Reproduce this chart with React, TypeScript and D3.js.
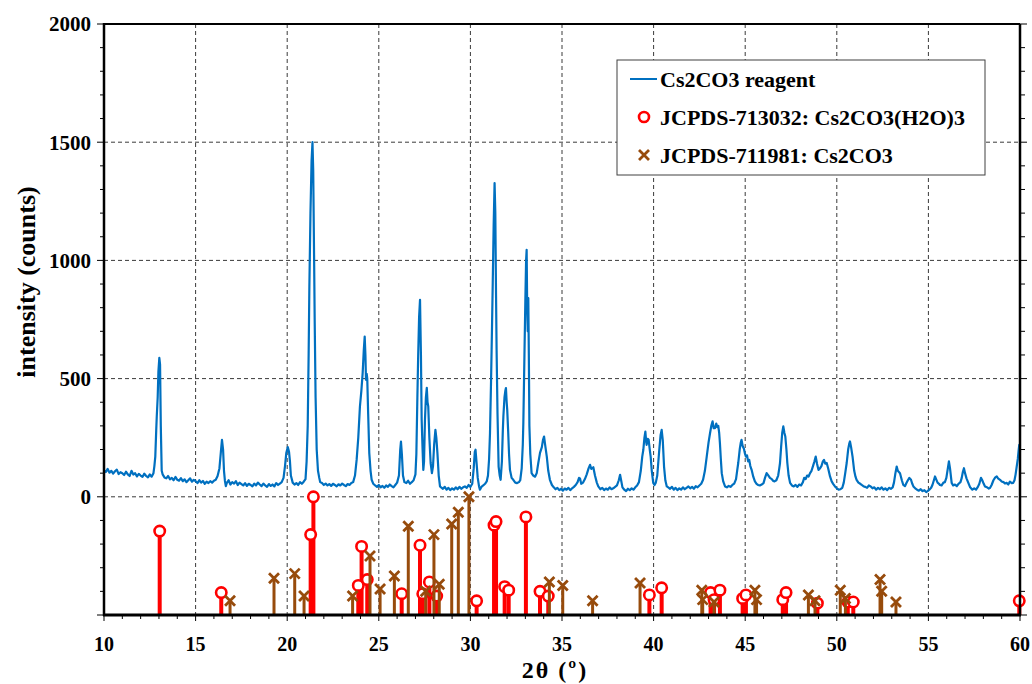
import React, { useEffect, useRef } from 'react';
import * as d3 from 'd3';

// ---------- data ----------
const xTicks = [10, 15, 20, 25, 30, 35, 40, 45, 50, 55, 60];
const yTickLabels = [0, 500, 1000, 1500, 2000];
const legendLabels = ['Cs2CO3 reagent', 'JCPDS-713032: Cs2CO3(H2O)3', 'JCPDS-711981: Cs2CO3'];

// XRD scan of the Cs2CO3 reagent: [2θ, counts]
const scan10to20: [number, number][] = [
  [10.0, 112], [10.1, 105], [10.2, 118], [10.3, 102], [10.4, 110], [10.5, 98], [10.6, 108], [10.7, 115], [10.8, 96], [10.9, 104],
  [11.0, 100], [11.1, 92], [11.2, 106], [11.3, 95], [11.4, 88], [11.5, 110], [11.6, 94], [11.7, 100], [11.8, 86], [11.9, 97],
  [12.0, 90], [12.1, 84], [12.2, 98], [12.3, 88], [12.4, 82], [12.5, 95], [12.6, 85], [12.7, 100], [12.75, 130], [12.8, 170],
  [12.85, 280], [12.88, 340], [12.93, 420], [12.97, 530], [13.02, 588], [13.06, 560], [13.1, 300], [13.15, 110], [13.2, 95],
  [13.3, 82], [13.4, 78], [13.5, 88], [13.6, 74], [13.7, 80], [13.8, 70], [13.9, 84], [14.0, 72], [14.1, 68], [14.2, 79],
  [14.3, 66], [14.4, 74], [14.5, 62], [14.6, 70], [14.7, 78], [14.8, 64], [14.9, 72], [15.0, 66], [15.1, 58], [15.2, 70],
  [15.3, 60], [15.4, 67], [15.5, 55], [15.6, 64], [15.7, 58], [15.8, 66], [15.9, 60], [16.0, 68], [16.1, 72], [16.2, 88],
  [16.3, 120], [16.38, 190], [16.44, 241], [16.5, 200], [16.55, 110], [16.6, 68], [16.65, 45], [16.7, 58], [16.8, 70],
  [16.9, 52], [17.0, 62], [17.1, 56], [17.2, 66], [17.3, 50], [17.4, 60], [17.5, 54], [17.6, 48], [17.7, 58], [17.8, 46],
  [17.9, 55], [18.0, 50], [18.1, 44], [18.2, 56], [18.3, 48], [18.4, 60], [18.5, 52], [18.6, 45], [18.7, 56], [18.8, 48],
  [18.9, 42], [19.0, 54], [19.1, 46], [19.2, 52], [19.3, 44], [19.4, 58], [19.5, 50], [19.6, 56], [19.7, 62], [19.8, 80],
  [19.88, 130], [19.95, 185], [20.03, 210],
];
const scan20to30: [number, number][] = [
  [20.1, 190], [20.15, 150], [20.2, 90], [20.3, 60], [20.4, 52], [20.5, 58], [20.6, 50], [20.7, 62], [20.8, 55], [20.9, 64],
  [21.0, 75], [21.06, 150], [21.12, 300], [21.17, 600], [21.21, 890], [21.27, 1200], [21.33, 1420], [21.38, 1500],
  [21.42, 1380], [21.47, 1000], [21.5, 750], [21.55, 420], [21.61, 200], [21.68, 110], [21.75, 80], [21.8, 62], [21.9, 58],
  [22.0, 50], [22.1, 56], [22.2, 48], [22.3, 54], [22.4, 46], [22.5, 55], [22.6, 50], [22.7, 44], [22.8, 53], [22.9, 48],
  [23.0, 56], [23.1, 50], [23.2, 45], [23.3, 54], [23.4, 50], [23.5, 58], [23.6, 62], [23.7, 90], [23.79, 156], [23.88, 250],
  [23.97, 382], [24.05, 450], [24.12, 524], [24.18, 620], [24.23, 678], [24.27, 600], [24.3, 495], [24.34, 520], [24.37, 500],
  [24.42, 350], [24.48, 185], [24.55, 110], [24.61, 72], [24.7, 55], [24.8, 48], [24.9, 42], [25.0, 50], [25.1, 40],
  [25.2, 46], [25.3, 38], [25.4, 48], [25.5, 42], [25.6, 52], [25.7, 45], [25.8, 40], [25.9, 50], [26.0, 60], [26.1, 90],
  [26.17, 200], [26.21, 234], [26.26, 180], [26.32, 90], [26.4, 62], [26.5, 58], [26.6, 68], [26.7, 55], [26.8, 62],
  [26.9, 70], [27.0, 95], [27.05, 180], [27.1, 397], [27.15, 600], [27.2, 760], [27.25, 833], [27.3, 600], [27.34, 326],
  [27.39, 200], [27.43, 114], [27.47, 150], [27.52, 326], [27.57, 420], [27.62, 461], [27.66, 400], [27.7, 382],
  [27.76, 250], [27.83, 143], [27.9, 100], [27.96, 130], [28.02, 220], [28.09, 283], [28.14, 250], [28.2, 185], [28.27, 90],
  [28.34, 44], [28.4, 40], [28.5, 34], [28.6, 42], [28.7, 30], [28.8, 38], [28.9, 28], [29.0, 36], [29.1, 30], [29.2, 40],
  [29.3, 32], [29.4, 42], [29.5, 34], [29.6, 40], [29.7, 44], [29.8, 38], [29.9, 50], [30.0, 42],
];
const scan30to40: [number, number][] = [
  [30.1, 55], [30.18, 120], [30.24, 190], [30.28, 199], [30.33, 150], [30.4, 80], [30.47, 45], [30.52, 30], [30.6, 42],
  [30.7, 48], [30.8, 55], [30.89, 65], [30.96, 90], [31.02, 160], [31.07, 270], [31.13, 500], [31.18, 720], [31.22, 905],
  [31.27, 1150], [31.32, 1327], [31.36, 1200], [31.4, 850], [31.43, 622], [31.48, 350], [31.54, 128], [31.6, 90],
  [31.65, 72], [31.72, 150], [31.77, 280], [31.8, 340], [31.86, 420], [31.91, 450], [31.94, 460], [31.98, 400],
  [32.01, 368], [32.06, 280], [32.11, 180], [32.16, 114], [32.25, 80], [32.34, 72], [32.45, 60], [32.55, 58], [32.65, 62],
  [32.72, 70], [32.8, 120], [32.86, 220], [32.89, 313], [32.95, 600], [33.0, 833], [33.04, 1000], [33.07, 1045],
  [33.1, 800], [33.13, 700], [33.16, 840], [33.19, 600], [33.22, 300], [33.27, 180], [33.34, 100], [33.43, 90],
  [33.53, 85], [33.62, 100], [33.7, 140], [33.8, 186], [33.9, 210], [33.96, 240], [34.02, 255], [34.08, 220], [34.17, 170],
  [34.25, 110], [34.34, 72], [34.45, 50], [34.55, 40], [34.65, 32], [34.75, 38], [34.85, 28], [34.95, 34], [35.05, 26],
  [35.15, 35], [35.25, 30], [35.35, 38], [35.45, 28], [35.55, 36], [35.65, 42], [35.75, 50], [35.85, 62], [35.93, 80],
  [35.98, 78], [36.05, 55], [36.15, 60], [36.25, 75], [36.35, 95], [36.45, 120], [36.53, 135], [36.6, 118], [36.71, 125],
  [36.8, 90], [36.9, 60], [36.98, 44], [37.1, 32], [37.2, 38], [37.3, 28], [37.4, 35], [37.5, 30], [37.6, 40], [37.7, 32],
  [37.8, 36], [37.9, 42], [38.0, 48], [38.1, 70], [38.17, 93], [38.24, 65], [38.3, 40], [38.4, 30], [38.5, 24], [38.6, 34],
  [38.7, 28], [38.8, 36], [38.9, 30], [39.0, 40], [39.1, 48], [39.2, 62], [39.3, 110], [39.38, 170], [39.44, 199],
  [39.5, 250], [39.55, 276], [39.6, 230], [39.62, 220], [39.68, 245], [39.73, 241], [39.79, 200], [39.84, 170],
  [39.9, 110], [39.98, 59],
];
const scan40to50: [number, number][] = [
  [40.05, 50], [40.12, 60], [40.2, 90], [40.26, 150], [40.31, 199], [40.38, 260], [40.44, 283], [40.5, 240], [40.57, 128],
  [40.64, 70], [40.72, 44], [40.8, 40], [40.9, 34], [41.0, 42], [41.1, 30], [41.2, 38], [41.3, 28], [41.4, 36], [41.5, 30],
  [41.6, 40], [41.7, 32], [41.8, 38], [41.9, 44], [42.0, 36], [42.1, 42], [42.2, 34], [42.3, 45], [42.4, 40], [42.5, 48],
  [42.6, 55], [42.7, 72], [42.8, 110], [42.9, 170], [43.0, 230], [43.08, 269], [43.15, 300], [43.22, 319], [43.28, 290],
  [43.35, 290], [43.42, 310], [43.48, 295], [43.53, 300], [43.58, 270], [43.62, 227], [43.67, 160], [43.72, 100],
  [43.8, 65], [43.9, 44], [44.0, 40], [44.1, 46], [44.2, 42], [44.3, 50], [44.4, 56], [44.5, 75], [44.56, 110],
  [44.62, 143], [44.7, 200], [44.76, 230], [44.8, 241], [44.86, 215], [44.93, 203], [44.98, 185], [45.04, 170],
  [45.1, 175], [45.16, 150], [45.22, 156], [45.28, 130], [45.35, 114], [45.44, 85], [45.53, 65], [45.62, 55], [45.7, 50],
  [45.8, 48], [45.9, 52], [46.0, 58], [46.08, 80], [46.17, 100], [46.25, 92], [46.35, 80], [46.45, 75], [46.52, 68],
  [46.6, 65], [46.7, 70], [46.8, 90], [46.86, 120], [46.9, 143], [46.96, 210], [47.02, 270], [47.08, 298], [47.14, 270],
  [47.19, 255], [47.25, 200], [47.3, 143], [47.37, 90], [47.45, 59], [47.55, 48], [47.65, 44], [47.75, 50], [47.85, 42],
  [47.95, 52], [48.05, 48], [48.15, 62], [48.22, 80], [48.3, 75], [48.38, 90], [48.46, 86], [48.54, 100], [48.62, 110],
  [48.7, 130], [48.78, 150], [48.85, 170], [48.92, 140], [49.0, 114], [49.08, 120], [49.16, 130], [49.24, 150],
  [49.3, 156], [49.37, 140], [49.45, 143], [49.53, 120], [49.63, 86], [49.72, 65], [49.8, 55], [49.9, 44], [50.0, 36],
];
const scan50to60: [number, number][] = [
  [50.1, 30], [50.2, 32], [50.3, 38], [50.38, 60], [50.46, 100], [50.54, 143], [50.62, 200], [50.68, 225], [50.72, 234],
  [50.78, 210], [50.86, 170], [50.95, 110], [51.02, 85], [51.08, 72], [51.18, 60], [51.28, 55], [51.36, 50], [51.45, 45],
  [51.55, 42], [51.65, 38], [51.75, 48], [51.85, 44], [51.95, 36], [52.05, 40], [52.15, 30], [52.25, 38], [52.35, 32],
  [52.45, 40], [52.55, 30], [52.65, 36], [52.75, 28], [52.85, 38], [52.95, 34], [53.05, 40], [53.12, 60], [53.2, 100],
  [53.27, 128], [53.33, 110], [53.45, 100], [53.55, 70], [53.63, 50], [53.72, 45], [53.8, 58], [53.88, 70], [53.96, 80],
  [54.05, 72], [54.12, 55], [54.18, 44], [54.28, 36], [54.38, 30], [54.48, 26], [54.58, 32], [54.68, 24], [54.78, 28],
  [54.88, 20], [54.96, 24], [55.05, 30], [55.15, 38], [55.22, 50], [55.3, 70], [55.36, 86], [55.42, 75], [55.5, 60],
  [55.58, 55], [55.63, 50], [55.72, 48], [55.82, 60], [55.9, 62], [55.98, 80], [56.05, 115], [56.12, 150], [56.18, 120],
  [56.27, 59], [56.35, 48], [56.45, 52], [56.55, 45], [56.65, 55], [56.75, 62], [56.82, 80], [56.88, 105], [56.94, 121],
  [57.0, 100], [57.08, 78], [57.18, 59], [57.28, 40], [57.4, 30], [57.5, 36], [57.6, 30], [57.7, 42], [57.78, 55],
  [57.87, 80], [57.94, 70], [58.02, 55], [58.09, 44], [58.2, 40], [58.3, 35], [58.36, 37], [58.45, 50], [58.55, 70],
  [58.65, 82], [58.73, 86], [58.8, 78], [58.91, 72], [59.0, 65], [59.1, 62], [59.18, 56], [59.27, 59], [59.36, 52],
  [59.45, 64], [59.55, 58], [59.63, 59], [59.7, 70], [59.76, 95], [59.82, 128], [59.88, 160], [59.93, 200], [59.96, 220],
  [60.0, 190],
];

// Reference patterns: [2θ, relative intensity %]
const jcpds713032: [number, number][] = [
  [13.04, 71], [16.40, 19], [21.28, 68], [21.43, 100], [23.88, 25], [24.06, 58], [24.37, 30], [26.25, 18], [27.25, 59],
  [27.40, 18], [27.76, 28], [28.16, 16], [30.34, 12], [31.29, 76], [31.40, 79], [31.87, 24], [32.09, 21], [33.03, 83],
  [33.80, 20], [34.25, 16], [39.77, 17], [40.44, 23], [43.11, 19], [43.30, 13], [43.62, 21], [44.86, 14], [45.04, 17],
  [47.05, 13], [47.23, 19], [48.94, 10], [50.60, 11], [50.90, 11], [59.96, 12],
];
const jcpds711981: [number, number][] = [
  [16.88, 12], [19.28, 31], [20.41, 35], [20.92, 16], [23.57, 16], [24.52, 50], [25.07, 22], [25.85, 33], [26.61, 75],
  [27.56, 20], [28.01, 68], [28.30, 26], [28.98, 77], [29.34, 87], [29.92, 100], [34.31, 28], [35.04, 25], [36.67, 12],
  [39.26, 27], [42.63, 21], [42.68, 13], [43.30, 11], [45.53, 21], [45.62, 13], [48.45, 17], [48.81, 12], [50.19, 21],
  [50.47, 14], [52.36, 30], [52.45, 20], [53.23, 11],
];

const BLUE = '#0070C0';
const RED = '#FF0000';
const BROWN = '#974B0C';
const FONT = '"Liberation Serif", "Times New Roman", serif';

export default function App() {
  const ref = useRef<SVGSVGElement>(null);

  useEffect(() => {
    const svg = d3.select(ref.current);
    svg.selectAll('*').remove();

    const left = 104, right = 1020, top = 24, bottom = 615;
    const x = d3.scaleLinear().domain([10, 60]).range([left, right]);
    const y = d3.scaleLinear().domain([-500, 2000]).range([bottom, top]);
    const stemBase = -500;
    const stemScale = 5; // 100 % -> 500 counts on the offset axis

    const g = svg.append('g');

    // grid
    const vGrid = xTicks.filter((t) => t > 10 && t < 60);
    g.selectAll('.vg').data(vGrid).enter().append('line')
      .attr('x1', (d) => x(d)).attr('x2', (d) => x(d))
      .attr('y1', y(2000)).attr('y2', y(-500))
      .attr('stroke', '#3a3a3a').attr('stroke-width', 1).attr('stroke-dasharray', '4,3');
    g.selectAll('.hg').data(yTickLabels.filter((t) => t < 2000)).enter().append('line')
      .attr('x1', x(10)).attr('x2', x(60))
      .attr('y1', (d) => y(d)).attr('y2', (d) => y(d))
      .attr('stroke', '#3a3a3a').attr('stroke-width', 1).attr('stroke-dasharray', '4,3');

    // scan
    const scan = [...scan10to20, ...scan20to30, ...scan30to40, ...scan40to50, ...scan50to60];
    const line = d3.line<[number, number]>().x((d) => x(d[0])).y((d) => y(d[1]));
    g.append('path').datum(scan).attr('d', line as any)
      .attr('fill', 'none').attr('stroke', BLUE).attr('stroke-width', 2.2).attr('stroke-linejoin', 'round');

    // red stems (circles)
    g.selectAll('.rs').data(jcpds713032).enter().append('line')
      .attr('x1', (d) => x(d[0])).attr('x2', (d) => x(d[0]))
      .attr('y1', y(stemBase)).attr('y2', (d) => y(stemBase + stemScale * d[1]))
      .attr('stroke', RED).attr('stroke-width', 4);
    g.selectAll('.rc').data(jcpds713032).enter().append('circle')
      .attr('cx', (d) => x(d[0])).attr('cy', (d) => y(stemBase + stemScale * d[1]))
      .attr('r', 5.2).attr('fill', '#fff').attr('stroke', RED).attr('stroke-width', 2.6);

    // brown stems (crosses)
    g.selectAll('.bs').data(jcpds711981).enter().append('line')
      .attr('x1', (d) => x(d[0])).attr('x2', (d) => x(d[0]))
      .attr('y1', y(stemBase)).attr('y2', (d) => y(stemBase + stemScale * d[1]))
      .attr('stroke', BROWN).attr('stroke-width', 3);
    const cross = (sel: any, cx: (d: any) => number, cy: (d: any) => number, s: number) => {
      sel.append('path')
        .attr('d', (d: any) => {
          const a = cx(d), b = cy(d);
          return `M${a - s},${b - s}L${a + s},${b + s}M${a - s},${b + s}L${a + s},${b - s}`;
        })
        .attr('stroke', BROWN).attr('stroke-width', 2.8).attr('fill', 'none');
    };
    const bc = g.selectAll('.bc').data(jcpds711981).enter().append('g');
    cross(bc, (d) => x(d[0]), (d) => y(stemBase + stemScale * d[1]), 5);

    // frame
    g.append('line').attr('x1', left).attr('x2', right).attr('y1', top).attr('y2', top).attr('stroke', '#000').attr('stroke-width', 2);
    g.append('line').attr('x1', right).attr('x2', right).attr('y1', top).attr('y2', bottom).attr('stroke', '#000').attr('stroke-width', 2.5);
    g.append('line').attr('x1', left).attr('x2', left).attr('y1', top - 1).attr('y2', bottom + 1).attr('stroke', '#000').attr('stroke-width', 2.5);
    g.append('line').attr('x1', left - 1).attr('x2', right + 1).attr('y1', bottom).attr('y2', bottom).attr('stroke', '#000').attr('stroke-width', 3);

    // y ticks
    const yMinor = d3.range(-500, 2001, 100);
    g.selectAll('.ymt').data(yMinor).enter().append('line')
      .attr('x1', (d) => (d % 500 === 0 ? left - 7 : left - 4)).attr('x2', left)
      .attr('y1', (d) => y(d)).attr('y2', (d) => y(d))
      .attr('stroke', '#000').attr('stroke-width', 1);
    g.selectAll('.ymr').data(yMinor).enter().append('line')
      .attr('x1', right).attr('x2', (d) => (d % 500 === 0 ? right + 7 : right + 5))
      .attr('y1', (d) => y(d)).attr('y2', (d) => y(d))
      .attr('stroke', '#000').attr('stroke-width', 1);
    g.selectAll('.ylab').data(yTickLabels).enter().append('text')
      .attr('x', left - 13).attr('y', (d) => y(d)).attr('dy', '0.35em')
      .attr('text-anchor', 'end').attr('font-family', FONT).attr('font-weight', 'bold').attr('font-size', 21)
      .text((d) => String(d));

    // x ticks
    const xMinor = d3.range(10, 61, 1);
    g.selectAll('.xmt').data(xMinor).enter().append('line')
      .attr('x1', (d) => x(d)).attr('x2', (d) => x(d))
      .attr('y1', bottom).attr('y2', (d) => (d % 5 === 0 ? bottom + 6 : bottom + 4))
      .attr('stroke', '#000').attr('stroke-width', 1);
    g.selectAll('.xlab').data(xTicks).enter().append('text')
      .attr('x', (d) => x(d)).attr('y', 651)
      .attr('text-anchor', 'middle').attr('font-family', FONT).attr('font-weight', 'bold').attr('font-size', 20)
      .text((d) => String(d));

    // axis titles
    g.append('text').attr('x', 555).attr('y', 678).attr('text-anchor', 'middle')
      .attr('font-family', FONT).attr('font-weight', 'bold').attr('font-size', 24)
      .attr('letter-spacing', 2).text('2θ (º)');
    g.append('text').attr('transform', 'translate(35,282) rotate(-90)').attr('text-anchor', 'middle')
      .attr('font-family', FONT).attr('font-weight', 'bold').attr('font-size', 26).text('intensity (counts)');

    // legend
    const lg = g.append('g');
    lg.append('rect').attr('x', 617).attr('y', 60).attr('width', 368).attr('height', 115)
      .attr('fill', '#fff').attr('stroke', '#404040').attr('stroke-width', 1);
    const rows = [79, 117, 155];
    lg.append('line').attr('x1', 630).attr('x2', 657).attr('y1', rows[0]).attr('y2', rows[0])
      .attr('stroke', BLUE).attr('stroke-width', 2);
    lg.append('circle').attr('cx', 644).attr('cy', rows[1]).attr('r', 5).attr('fill', '#fff')
      .attr('stroke', RED).attr('stroke-width', 2.6);
    const lgc = lg.selectAll('.lgc').data([0]).enter().append('g');
    cross(lgc, () => 644, () => rows[2], 5);
    lg.selectAll('.lt').data(legendLabels).enter().append('text')
      .attr('x', 660).attr('y', (_d, i) => rows[i]).attr('dy', '0.35em')
      .attr('font-family', FONT).attr('font-weight', 'bold').attr('font-size', 22)
      .text((d) => d);
  }, []);

  return (
    <svg ref={ref} width={1032} height={684}
      style={{ position: 'absolute', left: 0, top: 0, background: '#fff' }} />
  );
}
